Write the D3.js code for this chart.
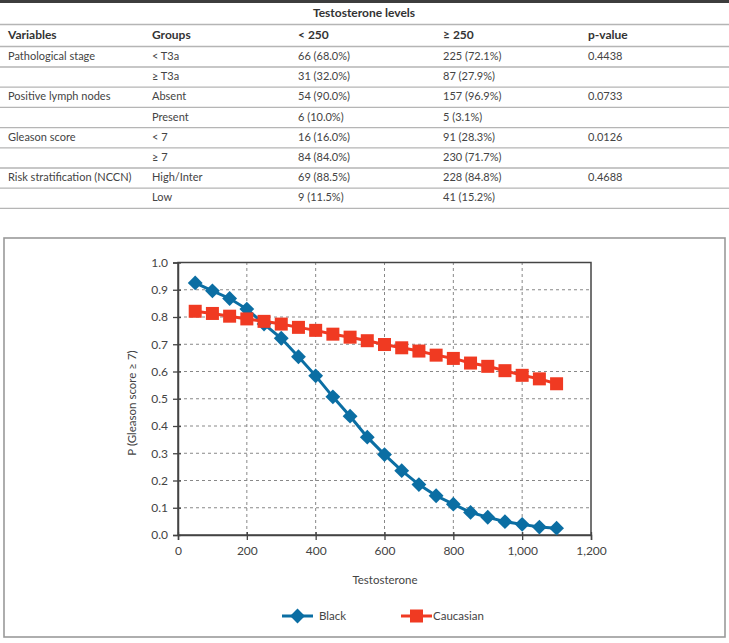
<!DOCTYPE html>
<html><head><meta charset="utf-8">
<script src="https://cdn.jsdelivr.net/npm/d3@7"></script>
<style>
html,body{margin:0;padding:0;background:#fff;}
svg{display:block;font-family:Lato,"Open Sans",sans-serif;}
</style></head>
<body><svg id="c" width="729" height="643"></svg>
<script>
// ---- table data ----
const tableTitle = "Testosterone levels";
const tableHeaders = ["Variables","Groups","< 250","≥ 250","p-value"];
const tableVariables = ["Pathological stage","","Positive lymph nodes","","Gleason score","","Risk stratification (NCCN)",""];
const tableGroups = ["< T3a","≥ T3a","Absent","Present","< 7","≥ 7","High/Inter","Low"];
const tableLow = ["66 (68.0%)","31 (32.0%)","54 (90.0%)","6 (10.0%)","16 (16.0%)","84 (84.0%)","69 (88.5%)","9 (11.5%)"];
const tableHigh = ["225 (72.1%)","87 (27.9%)","157 (96.9%)","5 (3.1%)","91 (28.3%)","230 (71.7%)","228 (84.8%)","41 (15.2%)"];
const tablePvalues = ["0.4438","","0.0733","","0.0126","","0.4688",""];

// ---- chart data ----
const testosterone = [50,100,150,200,250,300,350,400,450,500,550,600,650,700,750,800,850,900,950,1000,1050,1100];
const blackValues = [0.925,0.896,0.868,0.829,0.774,0.722,0.654,0.584,0.507,0.436,0.359,0.295,0.236,0.185,0.144,0.113,0.083,0.065,0.049,0.039,0.029,0.025];
const caucasianValues = [0.821,0.813,0.803,0.793,0.784,0.774,0.762,0.751,0.737,0.726,0.713,0.699,0.687,0.675,0.660,0.648,0.631,0.619,0.603,0.586,0.573,0.555];
const xTicks = [0,200,400,600,800,1000,1200];
const yTicks = [0,0.1,0.2,0.3,0.4,0.5,0.6,0.7,0.8,0.9,1.0];
const seriesNames = ["Black","Caucasian"];
const seriesColors = ["#0b6ea3","#f03a22"];

const svg = d3.select("#c");

// ---------- TABLE ----------
const colX = [8,152,298,443,588];
const tbl = svg.append("g");
tbl.append("rect").attr("x",0).attr("y",0).attr("width",729).attr("height",3).attr("fill","#3d3d3d");
tbl.append("text").attr("x",364).attr("y",17).attr("text-anchor","middle")
  .attr("font-size",12).attr("font-weight","bold").attr("fill","#333").text(tableTitle);
const hline = y => tbl.append("line").attr("x1",0).attr("x2",729).attr("y1",y).attr("y2",y)
  .attr("stroke","#b5b5b5").attr("stroke-width",1.3);
hline(24.5);
tableHeaders.forEach((h,i)=>{
  tbl.append("text").attr("x",colX[i]).attr("y",39).attr("font-size",12).attr("font-weight","bold")
    .attr("fill","#333").text(h);
});
hline(46.5);
const rowY = d3.range(tableGroups.length).map(i => 60 + i*20.2);
tableGroups.forEach((g,i)=>{
  const cells = [tableVariables[i],g,tableLow[i],tableHigh[i],tablePvalues[i]];
  cells.forEach((c,j)=>{
    if(c) tbl.append("text").attr("x",colX[j]).attr("y",rowY[i]).attr("font-size",11)
      .attr("fill","#444").text(c);
  });
  hline(rowY[i]+7);
});

// ---------- CHART ----------
svg.append("rect").attr("x",4).attr("y",238).attr("width",721).attr("height",399)
  .attr("fill","#fff").attr("stroke","#9a9a9a").attr("stroke-width",1.6);

const x = d3.scaleLinear().domain([0,1200]).range([178,591]);
const y = d3.scaleLinear().domain([0,1]).range([535,262.5]);
const chart = svg.append("g");

// grid
chart.append("g").selectAll("line").data(yTicks.slice(1,-1)).join("line")
  .attr("x1",x(0)).attr("x2",x(1200)).attr("y1",d=>y(d)).attr("y2",d=>y(d))
  .attr("stroke","#888").attr("stroke-width",1).attr("stroke-dasharray","3,3");
chart.append("g").selectAll("line").data(xTicks.slice(1,-1)).join("line")
  .attr("y1",y(0)).attr("y2",y(1)).attr("x1",d=>x(d)).attr("x2",d=>x(d))
  .attr("stroke","#888").attr("stroke-width",1).attr("stroke-dasharray","3,3");

// frame
chart.append("rect").attr("x",x(0)).attr("y",y(1)).attr("width",x(1200)-x(0)).attr("height",y(0)-y(1))
  .attr("fill","none").attr("stroke","#444").attr("stroke-width",1.5);

// axes
const xAxis = d3.axisBottom(x).tickValues(xTicks).tickSize(5).tickPadding(6)
  .tickFormat(d3.format(","));
const gx = chart.append("g").attr("transform",`translate(0,${y(0)})`).call(xAxis);
const yAxis = d3.axisLeft(y).tickValues(yTicks).tickSize(5).tickPadding(5)
  .tickFormat(d3.format(".1f"));
const gy = chart.append("g").attr("transform",`translate(${x(0)},0)`).call(yAxis);
[gx,gy].forEach(g=>{
  g.select(".domain").attr("stroke","#444").attr("stroke-width",1.5);
  g.selectAll(".tick line").attr("stroke","#444").attr("stroke-width",1.3);
  g.selectAll(".tick text").attr("font-family","Lato, sans-serif").attr("font-size",12).attr("fill","#444");
});
gx.selectAll(".tick line").attr("y1",-3);
gy.selectAll(".tick line").attr("x1",3);

// lines and markers
const series = [blackValues, caucasianValues];
const line = d3.line().x((d,i)=>x(testosterone[i])).y(d=>y(d));
series.forEach((vals,s)=>{
  chart.append("path").datum(vals).attr("d",line).attr("fill","none")
    .attr("stroke",seriesColors[s]).attr("stroke-width",3);
});
const diamond = d3.symbol().type(d3.symbolSquare).size(110);
chart.append("g").selectAll("path").data(blackValues).join("path")
  .attr("d",diamond())
  .attr("transform",(d,i)=>`translate(${x(testosterone[i])},${y(d)}) rotate(45)`)
  .attr("fill",seriesColors[0]);
chart.append("g").selectAll("rect").data(caucasianValues).join("rect")
  .attr("x",(d,i)=>x(testosterone[i])-6.5).attr("y",d=>y(d)-6.5)
  .attr("width",13).attr("height",13).attr("fill",seriesColors[1]);

// axis titles
chart.append("text").attr("x",385).attr("y",584).attr("text-anchor","middle")
  .attr("font-size",11.5).attr("fill","#444").text("Testosterone");
chart.append("text").attr("transform","translate(136,403) rotate(-90)").attr("text-anchor","middle")
  .attr("font-size",11.5).attr("fill","#444").text("P (Gleason score ≥ 7)");

// legend
const legY = 616;
const leg = chart.append("g");
const legItems = [{x1:282,x2:313,tx:319},{x1:401,x2:432,tx:433}];
legItems.forEach((it,s)=>{
  leg.append("line").attr("x1",it.x1).attr("x2",it.x2).attr("y1",legY).attr("y2",legY)
    .attr("stroke",seriesColors[s]).attr("stroke-width",3);
  const cx=(it.x1+it.x2)/2;
  if(s===0) leg.append("path").attr("d",diamond()).attr("transform",`translate(${cx},${legY}) rotate(45)`).attr("fill",seriesColors[0]);
  else leg.append("rect").attr("x",cx-6.5).attr("y",legY-6.5).attr("width",13).attr("height",13).attr("fill",seriesColors[1]);
  leg.append("text").attr("x",it.tx).attr("y",legY+4).attr("font-size",11.5).attr("fill","#444").text(seriesNames[s]);
});
</script></body></html>
